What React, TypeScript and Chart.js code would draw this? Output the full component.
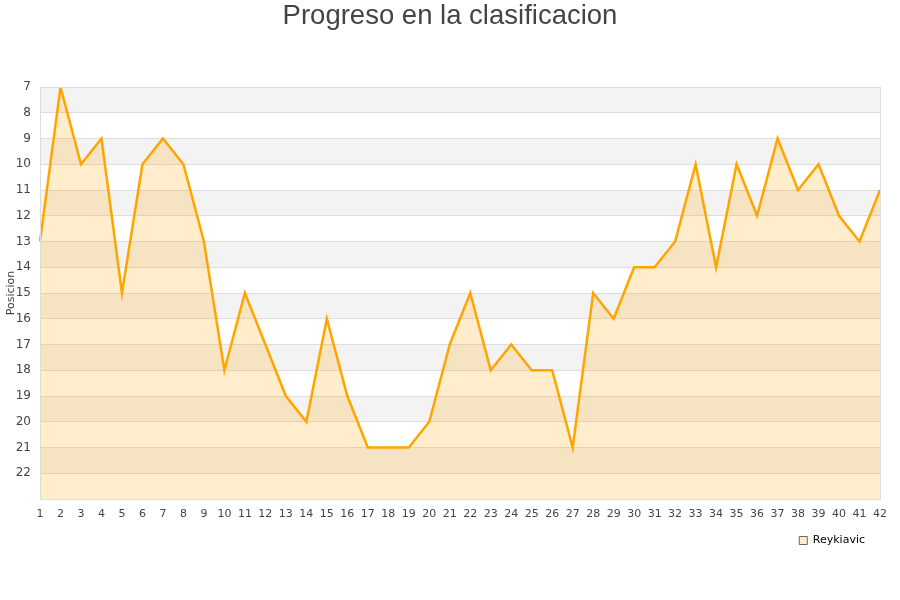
import React, { useEffect, useRef } from "react";
import { Chart, registerables } from "chart.js";

Chart.register(...registerables);

const jornadas: string[] = Array.from({ length: 42 }, (_, i) => String(i + 1));
const posiciones: number[] = [
  13, 7, 10, 9, 15, 10, 9, 10, 13, 18, 15, 17, 19, 20, 16, 19, 21, 21, 21, 20, 17,
  15, 18, 17, 18, 18, 21, 15, 16, 14, 14, 13, 10, 14, 10, 12, 9, 11, 10, 12, 13, 11,
];
const equipo = "Reykiavic";
const titulo = "Progreso en la clasificacion";
const yMin = 7;
const yMax = 23;

const bandsPlugin = {
  id: "bands",
  beforeDraw(chart: any) {
    const { ctx, chartArea } = chart;
    const y = chart.scales.y;
    ctx.save();
    ctx.fillStyle = "#ffffff";
    ctx.fillRect(chartArea.left, chartArea.top, chartArea.right - chartArea.left, chartArea.bottom - chartArea.top);
    for (let v = yMin; v < yMax; v++) {
      if ((v - yMin) % 2 === 0) {
        const t = y.getPixelForValue(v);
        const b = y.getPixelForValue(v + 1);
        ctx.fillStyle = "#f3f3f3";
        ctx.fillRect(chartArea.left, t, chartArea.right - chartArea.left, b - t);
      }
    }
    ctx.restore();
  },
  afterDraw(chart: any) {
    const { ctx, chartArea } = chart;
    ctx.save();
    ctx.strokeStyle = "#dddddd";
    ctx.lineWidth = 1;
    ctx.strokeRect(chartArea.left + 0.5, chartArea.top + 0.5, chartArea.right - chartArea.left, chartArea.bottom - chartArea.top);
    ctx.fillStyle = "#444444";
    ctx.font = '27.5px "Liberation Sans", Arial, sans-serif';
    ctx.textAlign = "center";
    ctx.textBaseline = "middle";
    ctx.fillText(titulo, 450, 16);
    ctx.restore();
  },
};

export default function App() {
  const ref = useRef<HTMLCanvasElement>(null);
  useEffect(() => {
    document.body.style.margin = "0";
    const chart = new Chart(ref.current!, {
      type: "line",
      data: {
        labels: jornadas,
        datasets: [
          {
            label: equipo,
            data: posiciones,
            borderColor: "#ffa500",
            backgroundColor: "rgba(255,165,0,0.2)",
            borderWidth: 2.5,
            pointRadius: 0,
            tension: 0,
            fill: { value: yMax },
          },
        ],
      },
      plugins: [bandsPlugin],
      options: {
        animation: false,
        responsive: false,
        layout: { padding: { top: 87, right: 20, left: 0, bottom: 44 } },
        plugins: {
          title: { display: false },
          tooltip: { enabled: false },
          legend: {
            position: "bottom",
            align: "end",
            labels: {
              boxWidth: 8,
              boxHeight: 8,
              padding: 15,
              color: "#222",
              font: { family: '"DejaVu Sans"', size: 11 },
              generateLabels: () => [
                {
                  text: equipo,
                  fillStyle: "#ffecc9",
                  strokeStyle: "#666",
                  lineWidth: 1,
                  hidden: false,
                  datasetIndex: 0,
                },
              ],
            },
          },
        },
        scales: {
          x: {
            offset: false,
            grid: { display: false },
            border: { display: false },
            ticks: {
              color: "#444",
              font: { family: '"DejaVu Sans"', size: 11 },
              maxRotation: 0,
              autoSkip: false,
              padding: 1,
            },
            afterFit: (s: any) => {
              s.height = 21;
            },
          },
          y: {
            reverse: true,
            min: yMin,
            max: yMax,
            grid: { color: "#dddddd", drawTicks: false },
            border: { display: false },
            title: {
              display: true,
              text: "Posicion",
              color: "#444",
              font: { family: '"DejaVu Sans"', size: 11 },
              padding: { top: 5, bottom: 0 },
            },
            ticks: {
              stepSize: 1,
              color: "#444",
              font: { family: '"DejaVu Sans"', size: 12 },
              padding: 9,
              callback: (v: any) => (v === yMax ? "" : String(v)),
            },
            afterFit: (s: any) => {
              s.width = 40;
            },
          },
        },
      },
    });
    return () => chart.destroy();
  }, []);
  return <canvas ref={ref} width={900} height={600} />;
}
